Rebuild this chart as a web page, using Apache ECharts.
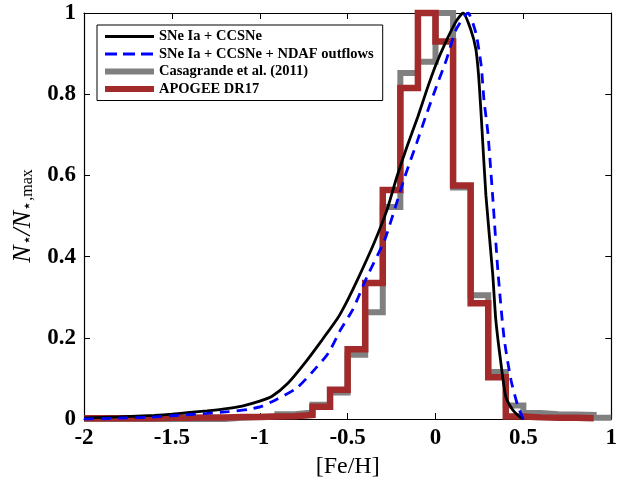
<!DOCTYPE html>
<html>
<head>
<meta charset="utf-8">
<script src="https://cdn.jsdelivr.net/npm/echarts@6/dist/echarts.min.js"></script>
<style>
  html, body { margin: 0; padding: 0; background: #fff; }
  #chart { width: 620px; height: 487px; }
</style>
</head>
<body>
<div id="chart"></div>
<script>
// bin left edges of the histograms ([Fe/H], width 0.1)
const binEdges = [-2.0, -1.9, -1.8, -1.7, -1.6, -1.5, -1.4, -1.3, -1.2, -1.1,
  -1.0, -0.9, -0.8, -0.7, -0.6, -0.5, -0.4, -0.3, -0.2, -0.1,
  0.0, 0.1, 0.2, 0.3, 0.4, 0.5, 0.6, 0.7, 0.8, 0.9, 1.0];

// APOGEE DR17 (last bin ends at 0.9)
const apogee = [0.002, 0.002, 0.002, 0.002, 0.003, 0.003, 0.004, 0.004, 0.005, 0.005,
  0.006, 0.007, 0.01, 0.03, 0.072, 0.172, 0.335, 0.564, 0.815, 1.0,
  0.93, 0.575, 0.285, 0.103, 0.006, 0.004, 0.003, 0.003, 0.002];

// Casagrande et al. (2011) (last bin ends at 1.0)
const casagrande = [0, 0, 0, 0, 0, 0, 0, 0, 0.003, 0.005,
  0.007, 0.012, 0.016, 0.035, 0.065, 0.158, 0.263, 0.522, 0.852, 0.88,
  1.0, 0.57, 0.305, 0.116, 0.033, 0.015, 0.012, 0.011, 0.01, 0.003];

// model: SNe Ia + CCSNe
const modelX = [-2.0, -1.8, -1.6, -1.5, -1.4, -1.3, -1.2, -1.1, -1.0, -0.93,
  -0.84, -0.745, -0.65, -0.557, -0.5, -0.445, -0.35, -0.276, -0.22, -0.163,
  -0.1, -0.05, 0.0, 0.06, 0.118, 0.157, 0.2, 0.23, 0.248, 0.265,
  0.287, 0.325, 0.343, 0.37, 0.4, 0.44, 0.48, 0.5];
const modelY = [0.003, 0.005, 0.009, 0.012, 0.016, 0.02, 0.025, 0.032, 0.044, 0.056,
  0.088, 0.137, 0.192, 0.248, 0.293, 0.342, 0.433, 0.515, 0.596, 0.67,
  0.745, 0.81, 0.87, 0.93, 0.98, 1.0, 0.96, 0.91, 0.83, 0.71,
  0.55, 0.36, 0.245, 0.145, 0.055, 0.022, 0.005, 0.0];

// model: SNe Ia + CCSNe + NDAF outflows
const ndafX = [-2.0, -1.8, -1.6, -1.5, -1.4, -1.3, -1.18, -1.06, -0.99, -0.91,
  -0.79, -0.7, -0.61, -0.54, -0.47, -0.39, -0.29, -0.23, -0.175, -0.107,
  -0.056, 0.006, 0.062, 0.118, 0.185, 0.23, 0.26, 0.276, 0.298, 0.325,
  0.355, 0.39, 0.43, 0.47, 0.5];
const ndafY = [0.0, 0.002, 0.005, 0.008, 0.011, 0.014, 0.018, 0.024, 0.031, 0.047,
  0.076, 0.116, 0.162, 0.22, 0.27, 0.35, 0.44, 0.52, 0.596, 0.68,
  0.745, 0.82, 0.885, 0.96, 1.0, 0.95, 0.87, 0.785, 0.705, 0.55,
  0.365, 0.2, 0.095, 0.03, 0.0];

const xTicks = ['-2', '-1.5', '-1', '-0.5', '0', '0.5', '1'];
const yTicks = ['0', '0.2', '0.4', '0.6', '0.8', '1'];

const names = ['SNe Ia + CCSNe', 'SNe Ia + CCSNe + NDAF outflows', 'Casagrande et al. (2011)', 'APOGEE DR17'];
const colors = ['#000000', '#0000ff', '#808080', '#a32a2a'];

function stairs(vals) {
  let pts = vals.map((v, i) => [binEdges[i], v]);
  pts.push([binEdges[vals.length], vals[vals.length - 1]]);
  return pts;
}

const chart = echarts.init(document.getElementById('chart'));
const serif = 'Liberation Serif';

const option = {
  backgroundColor: '#ffffff',
  animation: false,
  grid: { left: 84, top: 13, width: 533, height: 406, containLabel: false },
  legend: {
    orient: 'vertical',
    left: 97, top: 25,
    padding: [4, 9, 4, 5],
    itemWidth: 49, itemHeight: 14, itemGap: 2.5,
    borderColor: '#000', borderWidth: 1, borderRadius: 0,
    backgroundColor: '#fff',
    textStyle: { fontFamily: serif, fontWeight: 'bold', fontSize: 14.5, color: '#000' },
    data: [
      { name: names[0], itemStyle: { opacity: 0 }, lineStyle: { width: 3, color: colors[0] } },
      { name: names[1], itemStyle: { opacity: 0 }, lineStyle: { width: 3, color: colors[1], type: 'dashed' } },
      { name: names[2], itemStyle: { opacity: 0 }, lineStyle: { width: 6, color: colors[2] } },
      { name: names[3], itemStyle: { opacity: 0 }, lineStyle: { width: 6, color: colors[3] } }
    ]
  },
  xAxis: [
    {
      type: 'value', min: -2, max: 1, interval: 0.5,
      position: 'bottom',
      name: '[Fe/H]', nameLocation: 'middle', nameGap: 36,
      nameTextStyle: { fontFamily: serif, fontSize: 24, color: '#000' },
      axisLine: { onZero: false, lineStyle: { color: '#000', width: 1.2 } },
      axisTick: { inside: true, length: 6, lineStyle: { color: '#000' } },
      axisLabel: { margin: 8, fontFamily: serif, fontWeight: 'bold', fontSize: 23, color: '#000',
        formatter: v => xTicks[Math.round((v + 2) / 0.5)] },
      splitLine: { show: false }
    },
    {
      type: 'value', min: -2, max: 1, interval: 0.5,
      position: 'top',
      axisLine: { onZero: false, lineStyle: { color: '#000', width: 1.2 } },
      axisTick: { inside: true, length: 6, lineStyle: { color: '#000' } },
      axisLabel: { show: false },
      splitLine: { show: false }
    }
  ],
  yAxis: [
    {
      type: 'value', min: 0, max: 1, interval: 0.2,
      position: 'left',
      name: '{i|N}{s|⋆}{i|/N}{s|⋆,max}',
      nameLocation: 'middle', nameGap: 48, nameRotate: 90,
      nameTextStyle: {
        color: '#000',
        rich: {
          i: { fontFamily: serif, fontStyle: 'italic', fontSize: 26, color: '#000' },
          s: { fontFamily: serif, fontSize: 16, color: '#000', verticalAlign: 'bottom', padding: [10, 0, 0, 0] }
        }
      },
      axisLine: { onZero: false, lineStyle: { color: '#000', width: 1.2 } },
      axisTick: { inside: true, length: 6, lineStyle: { color: '#000' } },
      axisLabel: { margin: 8, fontFamily: serif, fontWeight: 'bold', fontSize: 23, color: '#000',
        formatter: v => yTicks[Math.round(v / 0.2)] },
      splitLine: { show: false }
    },
    {
      type: 'value', min: 0, max: 1, interval: 0.2,
      position: 'right',
      axisLine: { onZero: false, lineStyle: { color: '#000', width: 1.2 } },
      axisTick: { inside: true, length: 6, lineStyle: { color: '#000' } },
      axisLabel: { show: false },
      splitLine: { show: false }
    }
  ],
  series: [
    {
      name: names[2], type: 'line', step: 'end', symbol: 'none', clip: false,
      data: stairs(casagrande),
      lineStyle: { color: colors[2], width: 6, join: 'miter', cap: 'butt' },
      itemStyle: { color: colors[2] }
    },
    {
      name: names[3], type: 'line', step: 'end', symbol: 'none', clip: false,
      data: stairs(apogee),
      lineStyle: { color: colors[3], width: 6.5, join: 'miter', cap: 'butt' },
      itemStyle: { color: colors[3] }
    },
    {
      name: names[0], type: 'line', symbol: 'none', smooth: 0.2,
      data: modelX.map((x, i) => [x, modelY[i]]),
      lineStyle: { color: colors[0], width: 2.8 },
      itemStyle: { color: colors[0] }
    },
    {
      name: names[1], type: 'line', symbol: 'none', smooth: 0.2,
      data: ndafX.map((x, i) => [x, ndafY[i]]),
      lineStyle: { color: colors[1], width: 2.8, type: [10, 7] },
      itemStyle: { color: colors[1] }
    }
  ]
};
chart.setOption(option);
</script>
</body>
</html>
